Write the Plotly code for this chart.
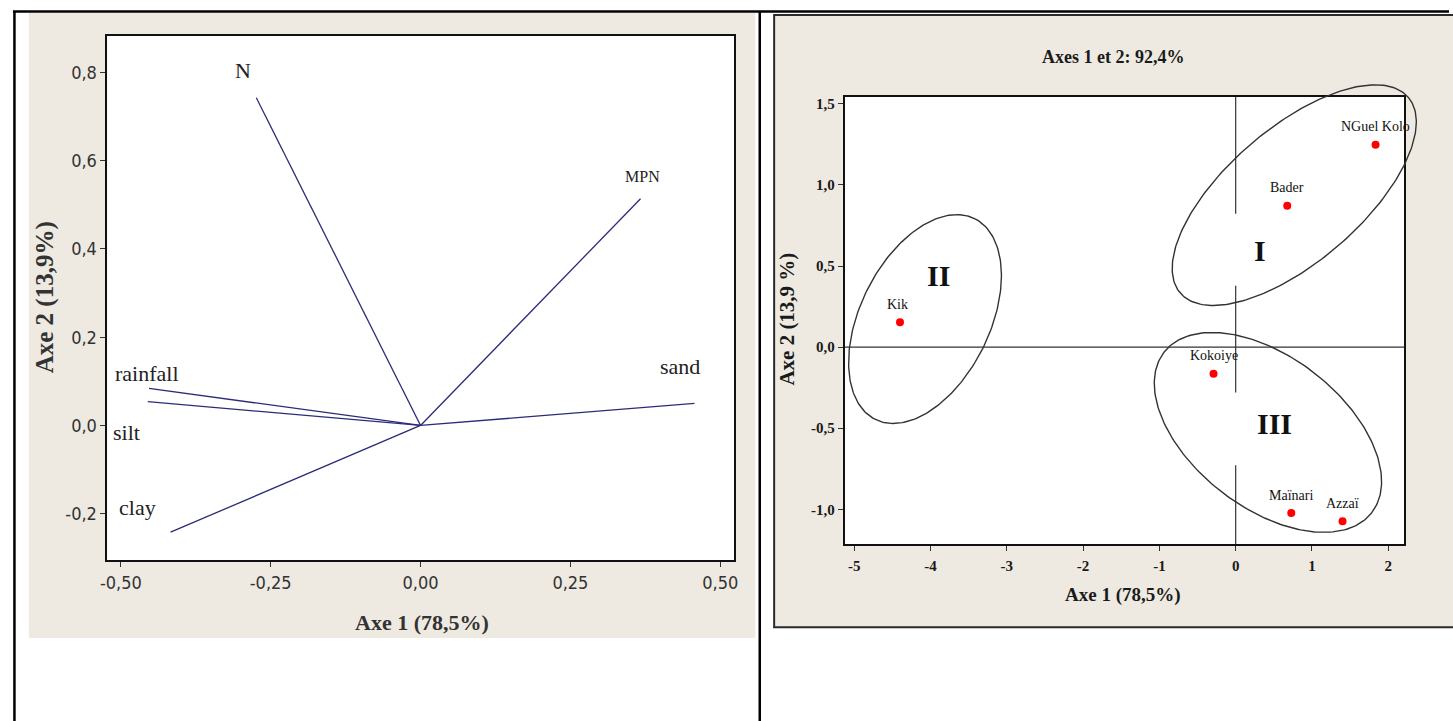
import numpy as np
import plotly.graph_objects as go

W, H = 1453, 721

# ---------------- data: left panel (variable loadings) ----------------
variables = ["N", "MPN", "sand", "rainfall", "silt", "clay"]
load_x = [-0.274, 0.367, 0.457, -0.453, -0.455, -0.417]
load_y = [0.743, 0.514, 0.050, 0.084, 0.054, -0.242]
var_label_x = [-0.297, 0.370, 0.433, -0.456, -0.490, -0.473]
var_label_y = [0.804, 0.564, 0.134, 0.118, -0.016, -0.186]
left_xticks = [-0.50, -0.25, 0.0, 0.25, 0.50]
left_xticktext = ["-0,50", "-0,25", "0,00", "0,25", "0,50"]
left_yticks = [-0.2, 0.0, 0.2, 0.4, 0.6, 0.8]
left_yticktext = ["-0,2", "0,0", "0,2", "0,4", "0,6", "0,8"]

# ---------------- data: right panel (site scores) ----------------
sites = ["NGuel Kolo", "Bader", "Kik", "Kokoiye", "Maïnari", "Azzaï"]
score_x = [1.834, 0.676, -4.40, -0.29, 0.729, 1.401]
score_y = [1.248, 0.872, 0.153, -0.164, -1.023, -1.074]
right_xticks = [-5, -4, -3, -2, -1, 0, 1, 2]
right_xticktext = ["-5", "-4", "-3", "-2", "-1", "0", "1", "2"]
right_yticks = [-1.0, -0.5, 0.0, 0.5, 1.0, 1.5]
right_yticktext = ["-1,0", "-0,5", "0,0", "0,5", "1,0", "1,5"]

groups = ["I", "II", "III"]
group_label_x = [0.325, -3.90, 0.503]
group_label_y = [0.595, 0.44, -0.470]
group_center_x = [0.768, -4.072, 0.423]
group_center_y = [0.937, 0.173, -0.526]

# ---------------- layout geometry / styles ----------------
L_PX = (101, 733, 35, 560)      # left, right, top, bottom (pixels)
R_PX = (844, 1408, 96, 544)
left_xrange = [-0.5227, 0.5237]
left_yrange = [-0.3056, 0.883]
right_xrange = [-5.126, 2.211]
right_yrange = [-1.2155, 1.543]
ELL_A = [151, 112.3, 131.9]     # ellipse semi-axes (screen px)
ELL_B = [67.3, 65.2, 75.7]
ELL_ANG = [40.4, 63.4, -37.3]   # degrees
PAD = 40

SERIF = "Liberation Serif, Times New Roman, serif"
NARROW = "Liberation Sans Narrow, Arial Narrow, DejaVu Sans Condensed, sans-serif"
BEIGE = "#EEEAE1"
VEC = "#2B2B78"


def dom_x(a, b):
    return [a / W, b / W]


def dom_y(top, bottom):
    return [1 - bottom / H, 1 - top / H]


fig = go.Figure()

# left vectors
vx, vy = [], []
for x, y in zip(load_x, load_y):
    vx += [0, x, None]
    vy += [0, y, None]
fig.add_trace(go.Scatter(x=vx, y=vy, mode="lines", line=dict(color=VEC, width=1.3),
                         xaxis="x", yaxis="y", hoverinfo="skip", showlegend=False))

# right points
fig.add_trace(go.Scatter(x=score_x, y=score_y, mode="markers",
                         marker=dict(color="#FF0000", size=8),
                         xaxis="x2", yaxis="y2", text=sites, hoverinfo="text",
                         showlegend=False))

# ellipses on an enlarged, invisible subplot with the same scale
sx = (right_xrange[1] - right_xrange[0]) / (R_PX[1] - R_PX[0])
sy = (right_yrange[1] - right_yrange[0]) / (R_PX[3] - R_PX[2])
x3range = [right_xrange[0] - PAD * sx, right_xrange[1] + PAD * sx]
y3range = [right_yrange[0] - PAD * sy, right_yrange[1] + PAD * sy]
t = np.linspace(0, 2 * np.pi, 240)
for cx, cy, a, b, ang in zip(group_center_x, group_center_y, ELL_A, ELL_B, ELL_ANG):
    th = np.deg2rad(ang)
    dx = a * np.cos(t) * np.cos(th) - b * np.sin(t) * np.sin(th)
    dy = a * np.cos(t) * np.sin(th) + b * np.sin(t) * np.cos(th)
    fig.add_trace(go.Scatter(x=cx + dx * sx, y=cy + dy * sy, mode="lines",
                             line=dict(color="#333333", width=1.4),
                             xaxis="x3", yaxis="y3", hoverinfo="skip", showlegend=False))

axis_common = dict(showline=True, linecolor="#111111", linewidth=1.5, mirror=True,
                   showgrid=False, zeroline=False, ticks="outside", ticklen=5,
                   tickcolor="#333333", tickwidth=1, fixedrange=True)

fig.update_layout(
    width=W, height=H, margin=dict(l=0, r=0, t=0, b=0),
    paper_bgcolor="white", plot_bgcolor="rgba(0,0,0,0)", showlegend=False,
    xaxis=dict(domain=dom_x(L_PX[0], L_PX[1]), range=left_xrange, anchor="y",
               tickvals=left_xticks, ticktext=left_xticktext,
               tickfont=dict(family=NARROW, size=18, color="#333333"), **axis_common),
    yaxis=dict(domain=dom_y(L_PX[2], L_PX[3]), range=left_yrange, anchor="x",
               tickvals=left_yticks, ticktext=left_yticktext,
               tickfont=dict(family=NARROW, size=18, color="#333333"), **axis_common),
    xaxis2=dict(domain=dom_x(R_PX[0], R_PX[1]), range=right_xrange, anchor="y2",
                tickvals=right_xticks, ticktext=right_xticktext, ticklabelstandoff=2,
                tickfont=dict(family=SERIF, size=15, color="#1a1a1a", weight="bold"),
                **axis_common),
    yaxis2=dict(domain=dom_y(R_PX[2], R_PX[3]), range=right_yrange, anchor="x2",
                tickvals=right_yticks, ticktext=right_yticktext,
                tickfont=dict(family=SERIF, size=15, color="#1a1a1a", weight="bold"),
                **axis_common),
    xaxis3=dict(domain=dom_x(R_PX[0] - PAD, R_PX[1] + PAD), range=x3range, anchor="y3",
                visible=False, fixedrange=True),
    yaxis3=dict(domain=dom_y(R_PX[2] - PAD, R_PX[3] + PAD), range=y3range, anchor="x3",
                visible=False, fixedrange=True),
)

shapes = []
# beige panels
shapes.append(dict(type="rect", xref="paper", yref="paper", layer="below",
                   x0=22 / W, x1=754 / W, y0=1 - 638 / H, y1=1 - 12 / H,
                   fillcolor=BEIGE, line=dict(width=0)))
shapes.append(dict(type="rect", xref="paper", yref="paper", layer="below",
                   x0=773 / W, x1=1470 / W, y0=1 - 627 / H, y1=1 - 14 / H,
                   fillcolor=BEIGE, line=dict(color="#2a2a2a", width=2)))
# white plot areas
for (a, b, tp, bt) in (L_PX, R_PX):
    shapes.append(dict(type="rect", xref="paper", yref="paper", layer="below",
                       x0=a / W, x1=b / W, y0=1 - bt / H, y1=1 - tp / H,
                       fillcolor="white", line=dict(width=0)))
# table borders
shapes.append(dict(type="line", xref="paper", yref="paper", x0=6 / W, x1=1.0,
                   y0=1 - 10.5 / H, y1=1 - 10.5 / H, line=dict(color="black", width=2.5)))
for xp in (7.5, 758.5):
    shapes.append(dict(type="line", xref="paper", yref="paper", x0=xp / W, x1=xp / W,
                       y0=0, y1=1 - 10 / H, line=dict(color="black", width=2.5)))
# reference lines in right panel
shapes.append(dict(type="line", xref="x2 domain", yref="y2", x0=0, x1=1, y0=0, y1=0,
                   line=dict(color="#333333", width=1.2)))
for y0, y1 in ((right_yrange[1], 0.823), (0.379, -0.280), (-0.729, right_yrange[0])):
    shapes.append(dict(type="line", xref="x2", yref="y2", x0=0, x1=0, y0=y0, y1=y1,
                       line=dict(color="#333333", width=1.2)))
fig.update_layout(shapes=shapes)

ann = []
# left variable labels
for name, x, y in zip(variables, var_label_x, var_label_y):
    ann.append(dict(x=x, y=y, xref="x", yref="y", text=name, showarrow=False,
                    xanchor="center", yanchor="middle",
                    font=dict(family=SERIF, size=16 if name == "MPN" else 22,
                              color="#222222")))
# site labels
for name, x, y in zip(sites, score_x, score_y):
    ann.append(dict(x=x, y=y, xref="x2", yref="y2", text=name, showarrow=False, yshift=18,
                    xshift=-3 if name == "Kik" else 0, xanchor="center", yanchor="middle",
                    font=dict(family=SERIF, size=14, color="#111111")))
# group numerals
for g, x, y in zip(groups, group_label_x, group_label_y):
    ann.append(dict(x=x, y=y, xref="x2", yref="y2", text=g, showarrow=False,
                    xanchor="center", yanchor="middle",
                    font=dict(family=SERIF, size=30, color="#111111", weight="bold")))
# axis titles / chart title
ann += [
    dict(x=418 / W, y=1 - 622 / H, text="Axe 1 (78,5%)",
         font=dict(family=SERIF, size=22, color="#333333", weight="bold")),
    dict(x=38 / W, y=1 - 297 / H, text="Axe 2 (13,9%)", textangle=-90,
         font=dict(family=SERIF, size=25, color="#333333", weight="bold")),
    dict(x=1114 / W, y=1 - 56 / H, text="Axes 1 et 2: 92,4%",
         font=dict(family=SERIF, size=18, color="#1a1a1a", weight="bold")),
    dict(x=1125 / W, y=1 - 595 / H, text="Axe 1 (78,5%)",
         font=dict(family=SERIF, size=19, color="#1a1a1a", weight="bold")),
    dict(x=786 / W, y=1 - 319 / H, text="Axe 2 (13,9 %)", textangle=-90,
         font=dict(family=SERIF, size=21, color="#1a1a1a", weight="bold")),
]
for a in ann[-5:]:
    a.update(xref="paper", yref="paper", showarrow=False, xanchor="center", yanchor="middle")
fig.update_layout(annotations=ann)

fig.write_html("out.html")
